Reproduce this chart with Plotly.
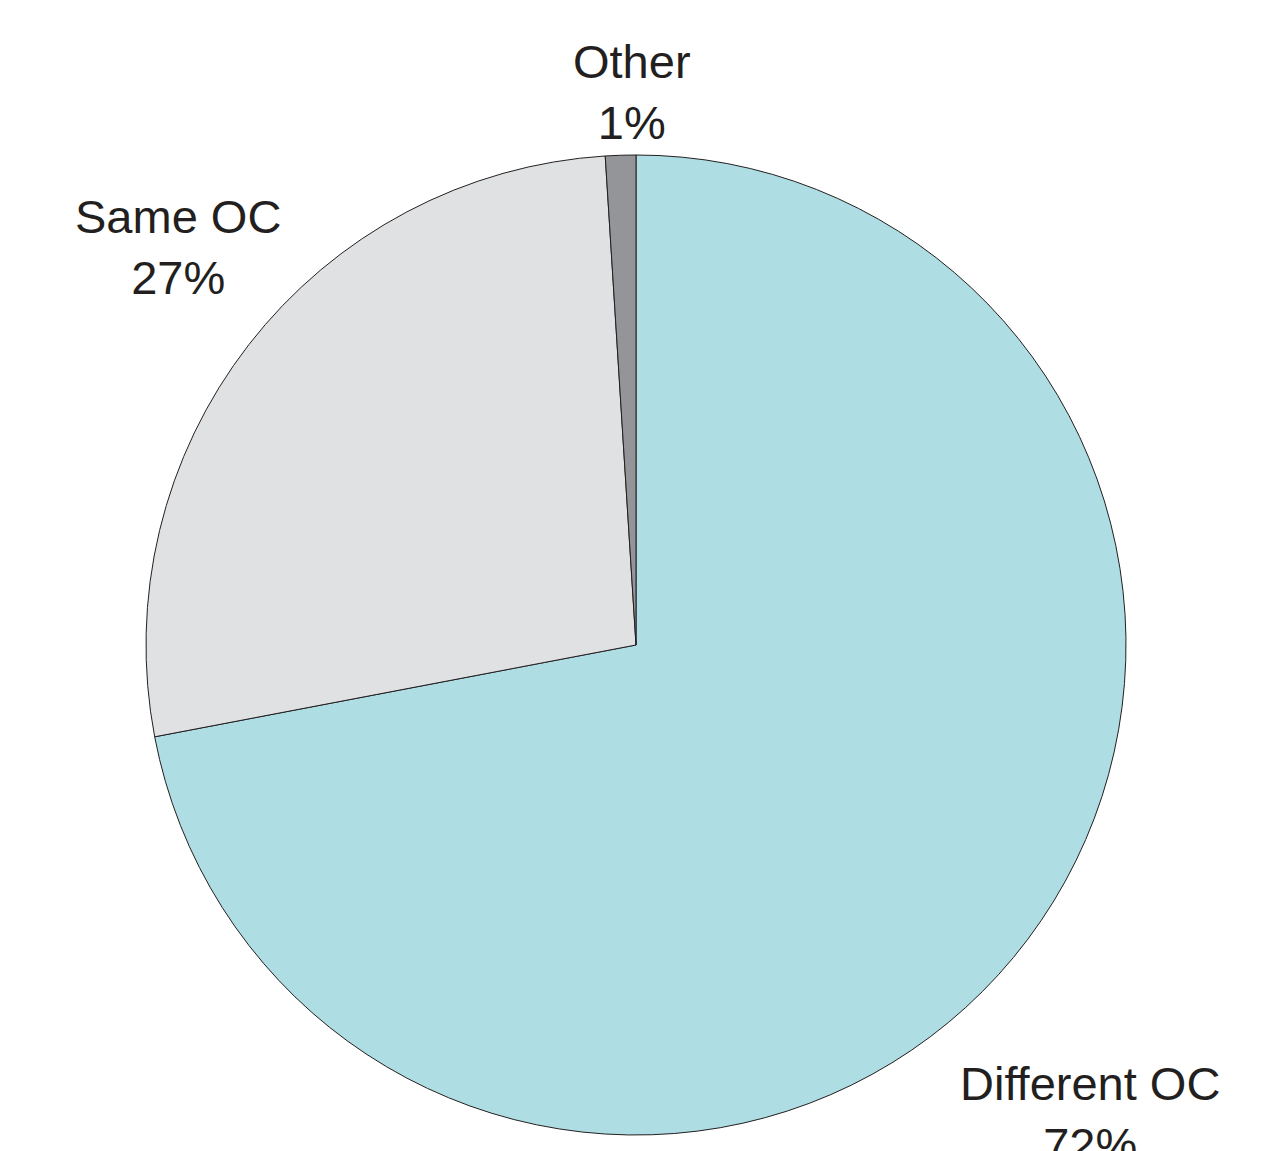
import plotly.graph_objects as go

# Share of cases by OC relationship
categories = ["Different OC", "Same OC", "Other"]
shares = [72, 27, 1]
slice_colors = ["#AEDDE3", "#E0E1E3", "#939598"]

W, H = 1279, 1151
margin = dict(l=146, r=153, t=155, b=16)

fig = go.Figure(
    go.Pie(
        labels=categories,
        values=shares,
        sort=False,
        direction="clockwise",
        rotation=0,
        marker=dict(colors=slice_colors, line=dict(color="#231F20", width=1)),
        textinfo="none",
        hoverinfo="label+percent",
        showlegend=False,
    )
)

# Label placement (pixel centres of each text block)
label_pos = {
    "Other": (632, 92),
    "Same OC": (178, 247),
    "Different OC": (1090, 1114),
}

plot_w = W - margin["l"] - margin["r"]
plot_h = H - margin["t"] - margin["b"]

for name, val in zip(categories, shares):
    px, py = label_pos[name]
    fig.add_annotation(
        x=(px - margin["l"]) / plot_w,
        y=(H - margin["b"] - py) / plot_h,
        xref="paper",
        yref="paper",
        text=f"{name}<br>{val}%",
        showarrow=False,
        xanchor="center",
        yanchor="middle",
        align="center",
        font=dict(family="Liberation Sans, Arial, sans-serif", size=47, color="#231F20"),
    )

fig.update_layout(
    width=W,
    height=H,
    margin=margin,
    paper_bgcolor="white",
    plot_bgcolor="white",
)

fig.write_html("out.html")
